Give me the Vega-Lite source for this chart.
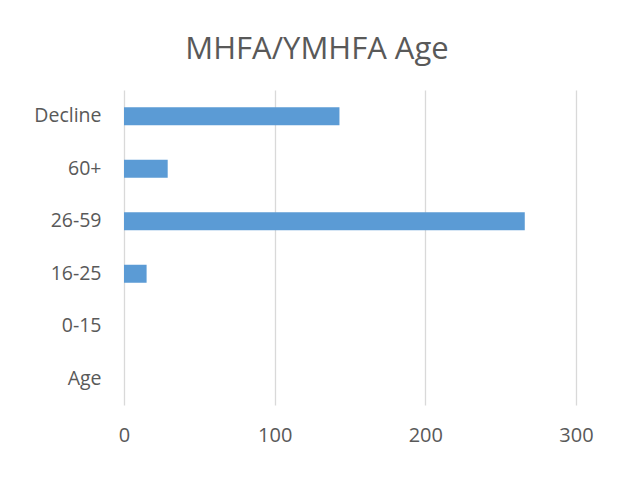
{
  "$schema": "https://vega.github.io/schema/vega-lite/v6.json",
  "autosize": "none",
  "width": 452,
  "height": 315,
  "padding": {"left": 124, "top": 90, "right": 45, "bottom": 75},
  "background": "white",
  "title": {
    "text": "MHFA/YMHFA Age",
    "font": "Open Sans",
    "fontSize": 31,
    "fontWeight": "normal",
    "color": "#595959",
    "anchor": "middle",
    "dx": -33,
    "offset": 24
  },
  "data": {
    "values": [
      {"category": "Decline", "value": 143},
      {"category": "60+", "value": 29},
      {"category": "26-59", "value": 266},
      {"category": "16-25", "value": 15},
      {"category": "0-15", "value": 0},
      {"category": "Age", "value": 0}
    ]
  },
  "mark": {"type": "bar", "color": "#5B9BD5"},
  "encoding": {
    "y": {
      "field": "category",
      "type": "nominal",
      "sort": null,
      "scale": {"paddingInner": 0.657, "paddingOuter": 0.3285},
      "axis": {
        "title": null,
        "ticks": false,
        "domain": false,
        "grid": false,
        "labelFont": "Open Sans",
        "labelFontSize": 19.5,
        "labelColor": "#595959",
        "labelPadding": 23
      }
    },
    "x": {
      "field": "value",
      "type": "quantitative",
      "scale": {"domain": [0, 300], "nice": false},
      "axis": {
        "title": null,
        "values": [0, 100, 200, 300],
        "ticks": false,
        "domain": false,
        "grid": true,
        "gridColor": "#d9d9d9",
        "gridWidth": 1.3,
        "labelFont": "Open Sans",
        "labelFontSize": 20,
        "labelColor": "#595959",
        "labelPadding": 20,
        "labelFlush": false
      }
    }
  },
  "config": {"view": {"stroke": null}}
}
